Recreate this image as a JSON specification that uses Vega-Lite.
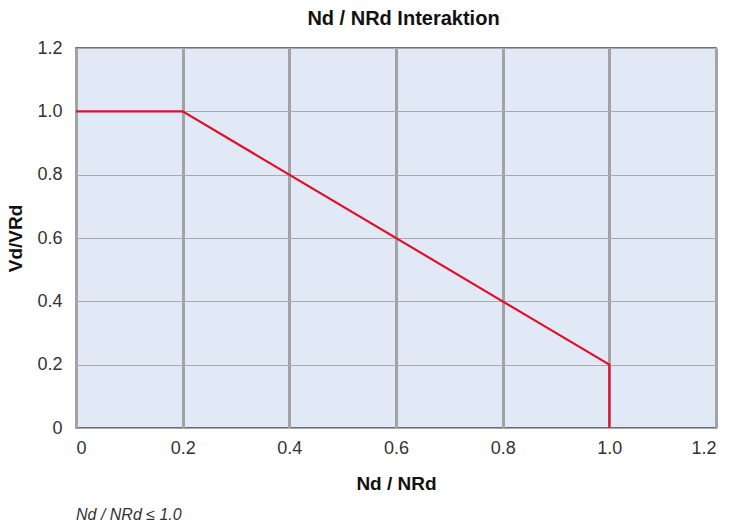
{
  "$schema": "https://vega.github.io/schema/vega-lite/v6.json",
  "background": "white",
  "padding": {"left": 6, "top": 9, "right": 27, "bottom": 2},
  "title": {
    "text": "Nd / NRd Interaktion",
    "anchor": "middle",
    "font": "Liberation Sans",
    "fontSize": 20,
    "fontWeight": "bold",
    "color": "#111",
    "offset": 9,
    "dx": 42
  },
  "config": {
    "font": "Liberation Sans",
    "view": {"stroke": "#444", "strokeWidth": 1.5, "fill": "#e2e9f6"},
    "concat": {"spacing": 0}
  },
  "vconcat": [
    {
      "width": 640,
      "height": 380,
      "title": {
        "text": "Nd / NRd ≤ 1.0",
        "orient": "bottom",
        "anchor": "start",
        "frame": "group",
        "font": "Liberation Sans",
        "fontSize": 16,
        "fontStyle": "italic",
        "fontWeight": "normal",
        "color": "#333",
        "offset": 14
      },
      "data": {
        "values": [
          {"n": 0, "v": 1.0, "o": 1},
          {"n": 0.2, "v": 1.0, "o": 2},
          {"n": 1.0, "v": 0.2, "o": 3},
          {"n": 1.0, "v": 0.0, "o": 4}
        ]
      },
      "mark": {"type": "line", "color": "#e0102c", "strokeWidth": 2.2, "clip": true},
      "encoding": {
        "x": {
          "field": "n",
          "type": "quantitative",
          "scale": {"domain": [0, 1.2], "nice": false, "zero": false},
          "axis": {
            "title": "Nd / NRd",
            "titleFontSize": 19,
            "titleFontWeight": "bold",
            "titleColor": "#111",
            "titlePadding": 17,
            "values": [0, 0.2, 0.4, 0.6, 0.8, 1.0, 1.2],
            "labelExpr": "datum.value == 0 ? '0' : format(datum.value, '.1f')",
            "labelFontSize": 18,
            "labelColor": "#333",
            "labelPadding": 11,
            "ticks": false,
            "domain": false,
            "grid": true,
            "gridColor": "#a3a3a3",
            "gridWidth": 3
          }
        },
        "y": {
          "field": "v",
          "type": "quantitative",
          "scale": {"domain": [0, 1.2], "nice": false, "zero": false},
          "axis": {
            "title": "Vd/VRd",
            "titleFontSize": 19,
            "titleFontWeight": "bold",
            "titleColor": "#111",
            "titlePadding": 11,
            "values": [0, 0.2, 0.4, 0.6, 0.8, 1.0, 1.2],
            "labelExpr": "datum.value == 0 ? '0' : format(datum.value, '.1f')",
            "labelFontSize": 18,
            "labelColor": "#333",
            "labelPadding": 14,
            "ticks": false,
            "domain": false,
            "grid": true,
            "gridColor": "#aaaaaa",
            "gridWidth": 1
          }
        },
        "order": {"field": "o", "type": "quantitative"}
      }
    }
  ]
}
